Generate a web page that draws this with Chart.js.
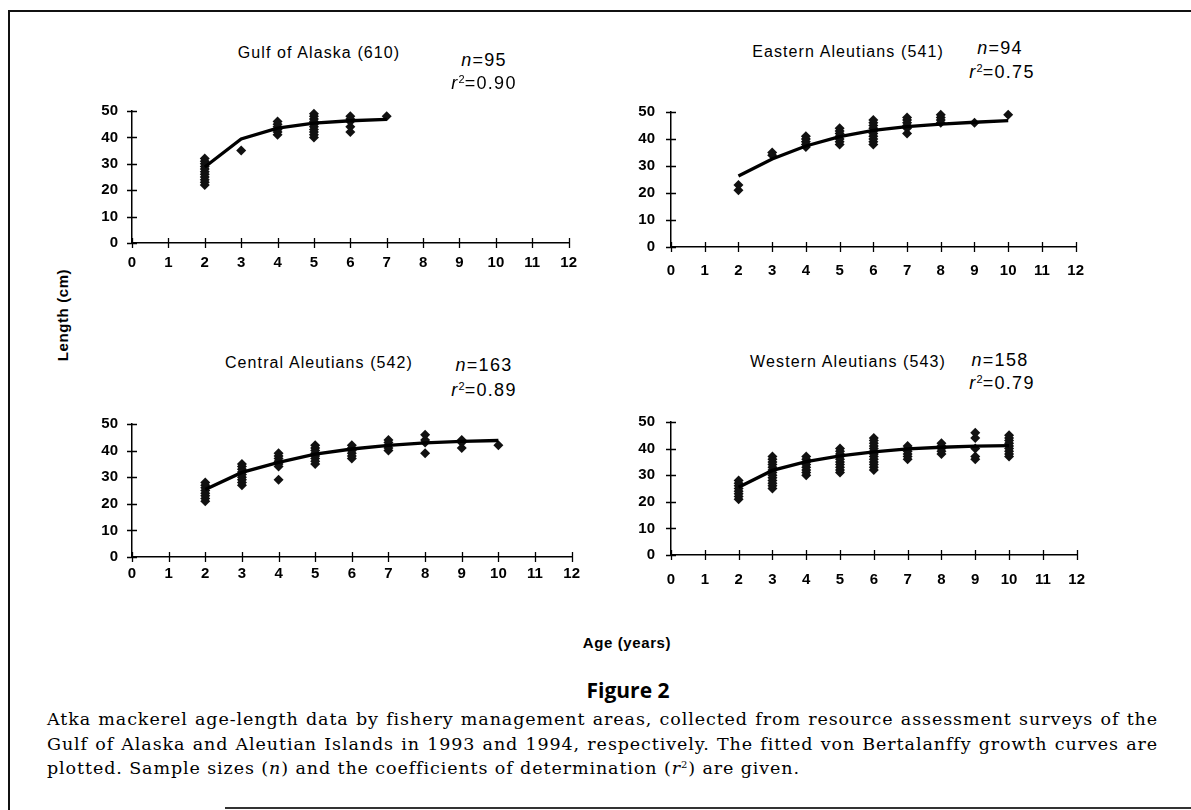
<!DOCTYPE html>
<html>
<head>
<meta charset="utf-8">
<script src="https://cdn.jsdelivr.net/npm/chart.js@4.4.1/dist/chart.umd.min.js"></script>
<style>
  body { margin: 0; background: #fff; }
  #fig { position: relative; width: 1191px; height: 810px; overflow: hidden; background: #fff; }
  .abs { position: absolute; }
  .frame-left { left: 8px; top: 10px; width: 2px; height: 800px; background: #111; }
  .frame-top { left: 8px; top: 10px; width: 1183px; height: 2px; background: #111; }
  .frame-bottom { left: 225px; top: 807px; width: 966px; height: 2px; background: #333; }
  .lbl { font-family: 'Liberation Sans', Arial, sans-serif; color: #000; white-space: nowrap; transform: translate(-50%, -50%); }
  .ptitle { font-size: 16px; letter-spacing: 1.1px; }
  .stat { font-size: 18px; letter-spacing: 1.3px; }
  .stat sup { font-size: 11px; vertical-align: 6px; line-height: 0; letter-spacing: 0; }
  .axlbl { font-size: 15px; font-weight: bold; letter-spacing: 0.6px; }
  .figno { font-family: 'Open Sans', 'Noto Sans', sans-serif; font-weight: 700; font-size: 21px; transform: translate(-50%, -50%); white-space: nowrap; }
  .caption { left: 47px; top: 707px; width: 1111px; font-family: 'DejaVu Serif', serif; font-size: 17.5px; letter-spacing: 0.9px; line-height: 24.5px; color: #000; }
  .caption .ln { text-align: justify; text-align-last: justify; white-space: nowrap; }
  .caption .ln.last { text-align-last: left; }
  .caption sup { font-size: 10px; vertical-align: 6px; line-height: 0; }
</style>
</head>
<body>
<div id="fig">
  <div class="abs frame-left"></div>
  <div class="abs frame-top"></div>
  <div class="abs frame-bottom"></div>

  <div class="abs lbl axlbl" style="left:62px; top:315px; transform: translate(-50%,-50%) rotate(-90deg);">Length (cm)</div>
  <div class="abs lbl axlbl" style="left:627px; top:642px;">Age (years)</div>
  <div class="abs figno" style="left:628px; top:690px;">Figure 2</div>
  <div class="abs caption">
    <div class="ln">Atka mackerel age-length data by fishery management areas, collected from resource assessment surveys of the</div>
    <div class="ln">Gulf of Alaska and Aleutian Islands in 1993 and 1994, respectively. The fitted von Bertalanffy growth curves are</div>
    <div class="ln last">plotted. Sample sizes (<i>n</i>) and the coefficients of determination (<i>r</i><sup>2</sup>) are given.</div>
  </div>
</div>

<script>
// axis ticks
const ageTicks = [0, 1, 2, 3, 4, 5, 6, 7, 8, 9, 10, 11, 12];
const lengthTicks = [0, 10, 20, 30, 40, 50];

// Gulf of Alaska (610)
const goaFitAge = [2, 3, 4, 5, 6, 7];
const goaFitLen = [28.8, 39.4, 43.5, 45.4, 46.3, 46.8];
const goaObs = [
  [2, [22, 23, 24, 25, 26, 27, 28, 29, 30, 31, 32]],
  [3, [35]],
  [4, [41, 42, 43, 44, 45, 46]],
  [5, [40, 41, 42, 43, 44, 45, 46, 47, 48, 49]],
  [6, [42, 44, 46, 47, 48]],
  [7, [48]],
];

// Eastern Aleutians (541)
const eaiFitAge = [2, 3, 4, 5, 6, 7, 8, 9, 10];
const eaiFitLen = [26.3, 32.6, 37.4, 40.9, 43.2, 44.6, 45.5, 46.2, 46.8];
const eaiObs = [
  [2, [21, 23]],
  [3, [34, 35]],
  [4, [37, 38, 39, 40, 41]],
  [5, [38, 39, 40, 41, 42, 43, 44]],
  [6, [38, 39, 40, 41, 42, 43, 44, 45, 46, 47]],
  [7, [42, 44, 45, 46, 47, 48]],
  [8, [46, 47, 48, 49]],
  [9, [46]],
  [10, [49]],
];

// Central Aleutians (542)
const caiFitAge = [2, 3, 4, 5, 6, 7, 8, 9, 10];
const caiFitLen = [25.4, 31.8, 35.6, 38.7, 40.6, 42.0, 42.9, 43.5, 43.8];
const caiObs = [
  [2, [21, 22, 23, 24, 25, 26, 27, 28]],
  [3, [27, 28, 29, 30, 31, 32, 33, 34, 35]],
  [4, [29, 34, 35, 36, 37, 38, 39]],
  [5, [35, 36, 37, 38, 39, 40, 41, 42]],
  [6, [37, 38, 39, 40, 41, 42]],
  [7, [40, 41, 42, 43, 44]],
  [8, [39, 43, 44, 46]],
  [9, [41, 43, 44]],
  [10, [42]],
];

// Western Aleutians (543)
const waiFitAge = [2, 3, 4, 5, 6, 7, 8, 9, 10];
const waiFitLen = [25.5, 31.8, 35.1, 37.3, 38.8, 39.9, 40.5, 40.9, 41.1];
const waiObs = [
  [2, [21, 22, 23, 24, 25, 26, 27, 28]],
  [3, [25, 26, 27, 28, 29, 30, 31, 32, 33, 34, 35, 36, 37]],
  [4, [30, 31, 32, 33, 34, 35, 36, 37]],
  [5, [31, 32, 33, 34, 35, 36, 37, 38, 39, 40]],
  [6, [32, 33, 34, 35, 36, 37, 38, 39, 40, 41, 42, 43, 44]],
  [7, [36, 37, 38, 39, 40, 41]],
  [8, [38, 39, 40, 41, 42]],
  [9, [36, 37, 40, 44, 46]],
  [10, [37, 38, 39, 40, 41, 42, 43, 44, 45]],
];

const panels = [
  { title: "Gulf of Alaska (610)", n: 95, r2: "0.90", fitAge: goaFitAge, fitLen: goaFitLen, obs: goaObs,
    area: { left: 132, top: 102, right: 574, bottom: 243 }, xPad: 11, yPad: 14,
    titlePos: [319, 53], nPos: [484, 60], rPos: [484, 83] },
  { title: "Eastern Aleutians (541)", n: 94, r2: "0.75", fitAge: eaiFitAge, fitLen: eaiFitLen, obs: eaiObs,
    area: { left: 671, top: 101, right: 1085, bottom: 247 }, xPad: 15, yPad: 16,
    titlePos: [848, 52], nPos: [1000, 48], rPos: [1002, 72] },
  { title: "Central Aleutians (542)", n: 163, r2: "0.89", fitAge: caiFitAge, fitLen: caiFitLen, obs: caiObs,
    area: { left: 132, top: 415, right: 574, bottom: 557 }, xPad: 8, yPad: 14,
    titlePos: [319, 363], nPos: [484, 365], rPos: [484, 390] },
  { title: "Western Aleutians (543)", n: 158, r2: "0.79", fitAge: waiFitAge, fitLen: waiFitLen, obs: waiObs,
    area: { left: 671, top: 411, right: 1087, bottom: 555 }, xPad: 16, yPad: 16,
    titlePos: [848, 362], nPos: [1000, 360], rPos: [1002, 383] },
];

const tickFont = { family: "'Liberation Sans', Arial, sans-serif", size: 15, weight: "bold" };

// tick marks crossing both axes
const crossTicks = {
  id: "crossTicks",
  afterDatasetsDraw(chart) {
    const { ctx } = chart;
    const x = chart.scales.x;
    const y = chart.scales.y;
    ctx.save();
    ctx.strokeStyle = "#000";
    ctx.lineWidth = 1.3;
    ctx.beginPath();
    ageTicks.forEach((v) => {
      const px = Math.round(x.getPixelForValue(v)) + 0.5;
      ctx.moveTo(px, y.bottom - 5);
      ctx.lineTo(px, y.bottom + 5);
    });
    lengthTicks.forEach((v) => {
      const py = Math.round(y.getPixelForValue(v)) + 0.5;
      ctx.moveTo(x.left - 5, py);
      ctx.lineTo(x.left + 5, py);
    });
    ctx.stroke();
    ctx.restore();
  },
};

const fig = document.getElementById("fig");
const padL = 60, padT = 14, padR = 14, padB = 44;

const addText = (html, pos, cls) => {
  const d = document.createElement("div");
  d.className = "abs lbl " + cls;
  d.style.left = pos[0] + "px";
  d.style.top = pos[1] + "px";
  d.innerHTML = html;
  fig.appendChild(d);
};

panels.forEach((p) => {
  const a = p.area;
  const canvas = document.createElement("canvas");
  canvas.width = a.right - a.left + padL + padR;
  canvas.height = a.bottom - a.top + padT + padB;
  canvas.className = "abs";
  canvas.style.left = (a.left - padL) + "px";
  canvas.style.top = (a.top - padT) + "px";
  fig.appendChild(canvas);

  const points = [];
  p.obs.forEach(([age, lens]) => {
    lens.forEach((len) => points.push({ x: age, y: len }));
  });
  const curve = p.fitAge.map((age, i) => ({ x: age, y: p.fitLen[i] }));

  new Chart(canvas, {
    type: "scatter",
    data: {
      datasets: [
        {
          type: "line",
          data: curve,
          borderColor: "#000",
          borderWidth: 3.3,
          pointRadius: 0,
          tension: 0,
          fill: false,
          clip: false,
        },
        {
          data: points,
          pointStyle: "rectRot",
          pointRadius: 5,
          backgroundColor: "#111",
          borderColor: "#111",
          borderWidth: 0,
          clip: false,
        },
      ],
    },
    options: {
      responsive: false,
      animation: false,
      layout: { padding: { top: padT, right: padR, left: 0, bottom: 0 } },
      scales: {
        x: {
          type: "linear",
          min: 0,
          max: 12,
          afterBuildTicks: (s) => { s.ticks = ageTicks.map((v) => ({ value: v })); },
          afterFit: (s) => { s.height = padB; },
          grid: { display: false, drawTicks: false },
          border: { display: true, color: "#000", width: 1.5 },
          ticks: { color: "#000", font: tickFont, padding: p.xPad, maxRotation: 0, autoSkip: false },
        },
        y: {
          type: "linear",
          min: 0,
          max: 50,
          afterBuildTicks: (s) => { s.ticks = lengthTicks.map((v) => ({ value: v })); },
          afterFit: (s) => { s.width = padL; },
          grid: { display: false, drawTicks: false },
          border: { display: true, color: "#000", width: 1.5 },
          ticks: { color: "#000", font: tickFont, padding: p.yPad },
        },
      },
      plugins: {
        legend: { display: false },
        tooltip: { enabled: false },
      },
    },
    plugins: [crossTicks],
  });

  addText(p.title, p.titlePos, "ptitle");
  addText("<i>n</i>=" + p.n, p.nPos, "stat");
  addText("<i>r</i><sup>2</sup>=" + p.r2, p.rPos, "stat");
});
</script>
</body>
</html>
